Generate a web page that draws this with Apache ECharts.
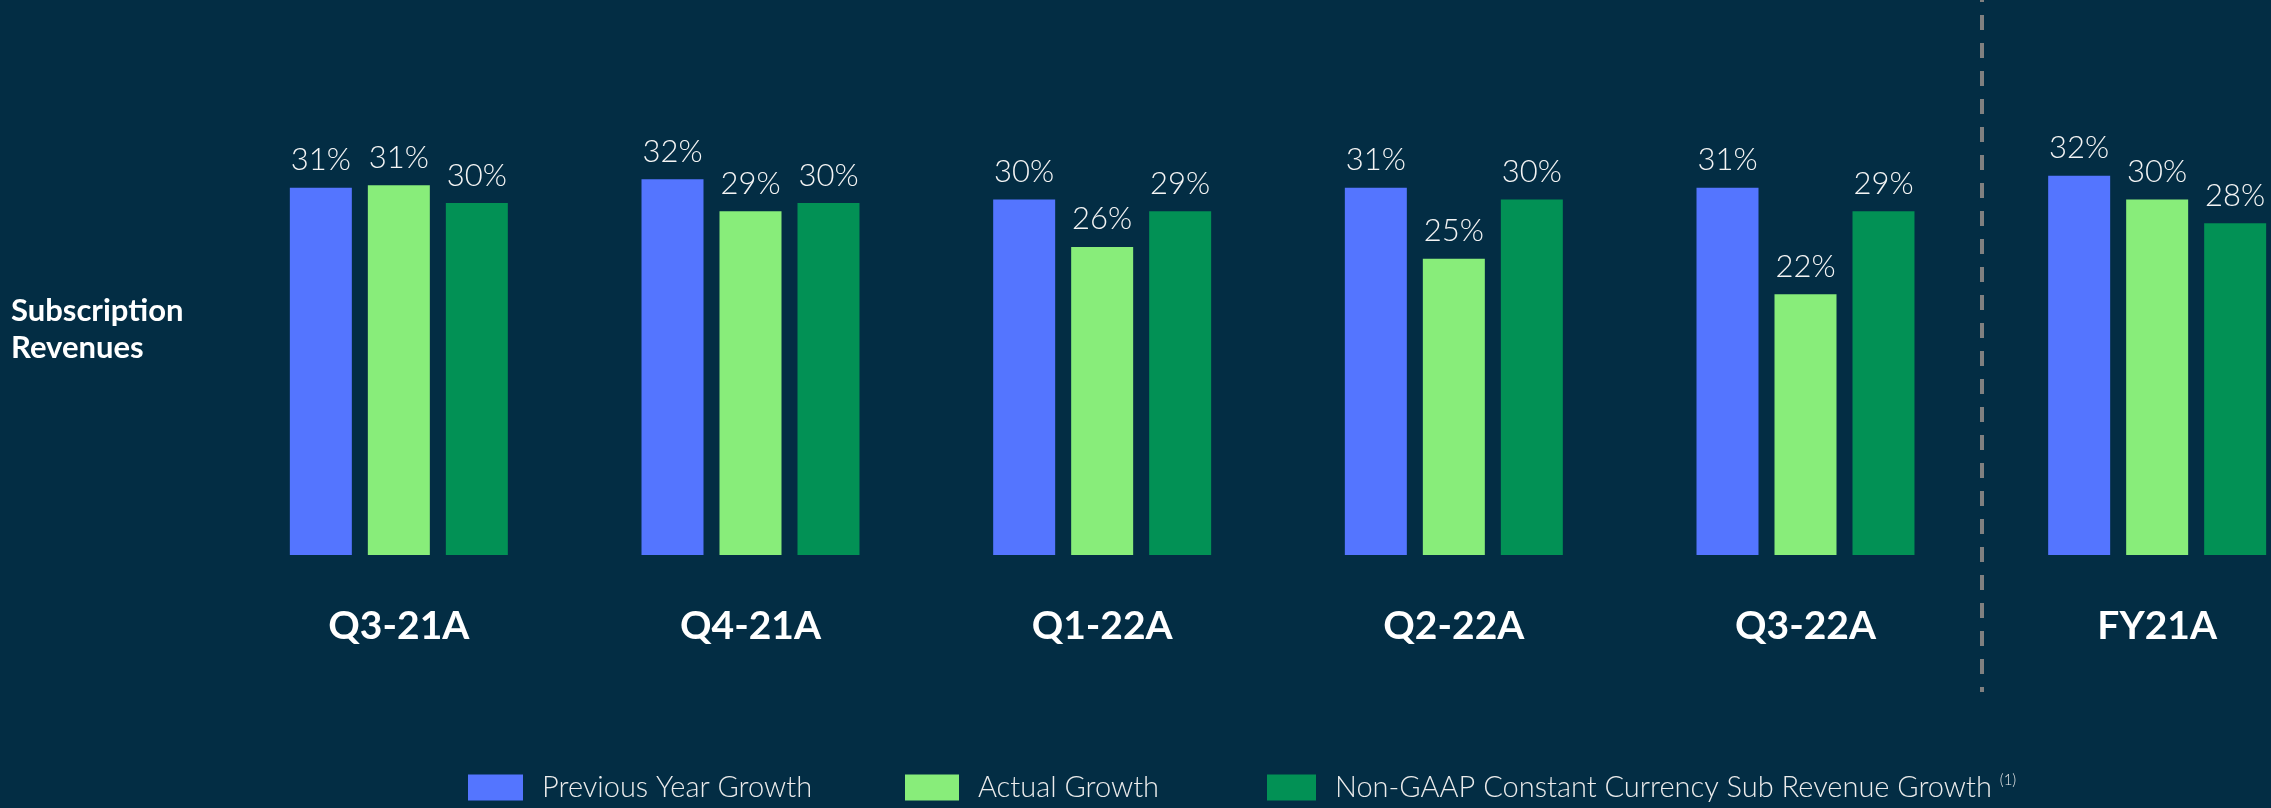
<!DOCTYPE html>
<html>
<head>
<meta charset="utf-8">
<script src="https://cdn.jsdelivr.net/npm/echarts@6/dist/echarts.min.js"></script>
<style>
  html, body { margin: 0; padding: 0; background: #032d44; }
  #chart { width: 2271px; height: 808px; }
</style>
</head>
<body>
<div id="chart"></div>
<script>
const categories = ["Q3-21A", "Q4-21A", "Q1-22A", "Q2-22A", "Q3-22A", "FY21A"];
const seriesNames = [
  "Previous Year Growth",
  "Actual Growth",
  "Non-GAAP Constant Currency Sub Revenue Growth",
];
const previousYearGrowth = [31.0, 31.7, 30.0, 31.0, 31.0, 32.0];
const actualGrowth = [31.2, 29.0, 26.0, 25.0, 22.0, 30.0];
const constantCurrencyGrowth = [29.7, 29.7, 29.0, 30.0, 29.0, 28.0];
// quarters end before index 5, the full-year column sits after the divider
const dividerAt = [5];
const colors = ["#5475ff", "#88ed7a", "#029155"];

const font = "Lato, 'Open Sans', 'DejaVu Sans', sans-serif";
const gridLeft = 223;
const gridRight = -62;

const chart = echarts.init(document.getElementById("chart"));

const barLabel = {
  show: true,
  position: "top",
  distance: 12,
  color: "#f4f4f4",
  fontFamily: font,
  fontWeight: 300,
  fontSize: 31,
  formatter: (p) => Math.round(p.value) + "%",
};

function makeBar(name, data, color) {
  return {
    name: name,
    type: "bar",
    xAxisIndex: 0,
    yAxisIndex: 0,
    data: data,
    barWidth: 62,
    barGap: "25.8%",
    itemStyle: { color: color },
    label: barLabel,
    silent: true,
  };
}

function makeLegend(name, left, width) {
  return {
    data: [name],
    left: left,
    top: 768,
    itemWidth: width,
    itemHeight: 26,
    icon: "rect",
    selectedMode: false,
    textStyle: {
      color: "#ececec",
      fontFamily: font,
      fontWeight: 300,
      fontSize: 29,
      padding: [0, 0, 0, 14],
      rich: {
        sup: { fontSize: 15, fontFamily: font, color: "#ececec", padding: [0, 0, 14, 0] },
      },
    },
    formatter: (n) => (n === seriesNames[2] ? n + " {sup|(1)}" : n),
  };
}

const option = {
  backgroundColor: "#032d44",
  animation: false,
  grid: [
    { left: gridLeft, right: gridRight, top: 81, bottom: 253, outerBoundsMode: "none" },
    { left: gridLeft, right: gridRight, top: 0, bottom: 116, outerBoundsMode: "none" },
  ],
  xAxis: [
    {
      type: "category",
      gridIndex: 0,
      data: categories,
      axisLine: { show: false },
      axisTick: { show: false },
      axisLabel: {
        color: "#ffffff",
        fontFamily: font,
        fontWeight: "bold",
        fontSize: 39,
        margin: 52,
      },
    },
    {
      type: "value",
      gridIndex: 1,
      min: 0,
      max: categories.length,
      show: false,
    },
  ],
  yAxis: [
    { type: "value", gridIndex: 0, min: 0, max: 40, show: false },
    { type: "value", gridIndex: 1, min: 0, max: 1, show: false },
  ],
  legend: [
    makeLegend(seriesNames[0], 463, 55),
    makeLegend(seriesNames[1], 900, 54),
    makeLegend(seriesNames[2], 1262, 49),
  ],
  graphic: [
    {
      type: "text",
      left: 11,
      top: 292,
      style: {
        text: "Subscription\nRevenues",
        fill: "#ffffff",
        font: "bold 31px " + font,
        lineHeight: 37,
      },
    },
  ],
  series: [
    makeBar(seriesNames[0], previousYearGrowth, colors[0]),
    makeBar(seriesNames[1], actualGrowth, colors[1]),
    makeBar(seriesNames[2], constantCurrencyGrowth, colors[2]),
    {
      name: "divider",
      type: "line",
      xAxisIndex: 1,
      yAxisIndex: 1,
      data: [],
      silent: true,
      markLine: {
        silent: true,
        symbol: "none",
        label: { show: false },
        lineStyle: { color: "#808080", width: 4, type: [15, 13], dashOffset: 10 },
        data: dividerAt.map((v) => ({ xAxis: v })),
      },
    },
  ],
};

chart.setOption(option);
</script>
</body>
</html>
